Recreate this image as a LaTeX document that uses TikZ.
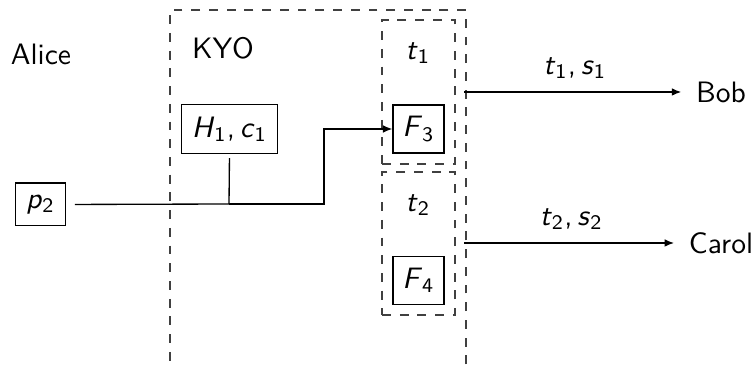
\documentclass[tikz,border=0pt]{standalone}
\usetikzlibrary{arrows.meta}
\newcommand\vsym[2]{\textsl{#1}\textsubscript{#2}}
\begin{document}
\begin{tikzpicture}[x=0.3386pt,y=-0.3386pt,font=\sffamily,
  box/.style={draw,inner sep=0pt},
  dbox/.style={draw,dashed,inner sep=0pt,color=black!75},
  conn/.style={line width=0.45pt},
  arr/.style={conn,-{Latex[length=3.2pt,width=2.6pt]}}]
\useasboundingbox (0,0) rectangle (756,369);
% dashed frames
\node[dbox,minimum width=100.2pt,minimum height=121.8pt] (outer) at (318,189.8) {};
\node[dbox,minimum width=24.7pt,minimum height=48.8pt] (in1) at (418.5,92) {};
\node[dbox,minimum width=24.7pt,minimum height=48.4pt] (in2) at (418.5,243.5) {};
% labels
\node (alice) at (41,54) {Alice};
\node (kyo) at (223,48) {KYO};
\node (t1) at (418,53) {\vsym{t}{1}};
\node (t2) at (418,205) {\vsym{t}{2}};
% boxes
\node[box,minimum width=32.3pt,minimum height=16.8pt] (H) at (229.5,129) {\vsym{H}{1},\,\vsym{c}{1}};
\node[box,minimum width=17.2pt,minimum height=14.5pt] (p2) at (40.5,204.5) {\vsym{p}{2}};
\node[box,minimum width=17.3pt,minimum height=16.3pt] (F3) at (418.5,129) {\vsym{F}{3}};
\node[box,minimum width=17.3pt,minimum height=16.0pt] (F4) at (418.5,280.5) {\vsym{F}{4}};
% receivers
\node (bob) at (721,92) {Bob};
\node (carol) at (721,243) {Carol};
\coordinate (j) at (229,204);
\coordinate (k) at (324,204);
\coordinate (o1) at (464,92);
\coordinate (o2) at (464,243);
% connectors
\draw[conn,shorten <=2.8pt] (p2.east) -- (j);
\draw[conn,shorten <=1.3pt] (H.south) -- (j);
\draw[arr] (j) -- (k) |- (F3.west);
\draw[arr,shorten >=1.5pt] (o1) -- node[above,yshift=1pt] {\vsym{t}{1},\,\vsym{s}{1}} (bob.west);
\draw[arr,shorten >=1.5pt] (o2) -- node[above,yshift=1pt] {\vsym{t}{2},\,\vsym{s}{2}} (carol.west);
\end{tikzpicture}
\end{document}
